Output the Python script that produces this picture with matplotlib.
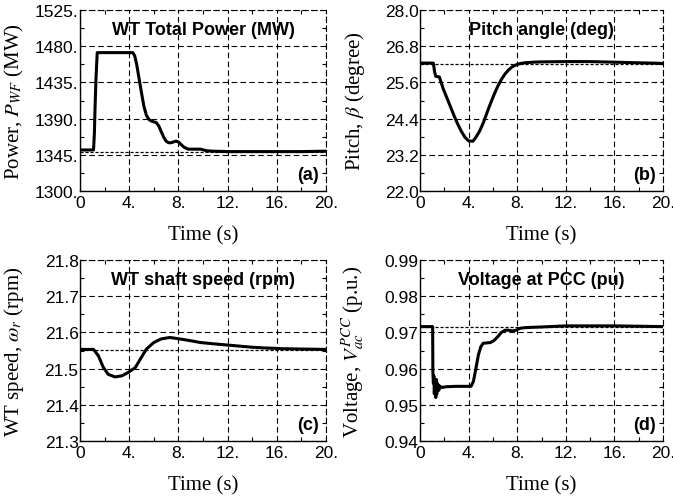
import matplotlib
matplotlib.use("Agg")
import matplotlib.pyplot as plt
from matplotlib.ticker import FixedLocator, FixedFormatter, AutoMinorLocator

plt.rcParams['font.family'] = 'Liberation Sans'
plt.rcParams['mathtext.fontset'] = 'stix'

#### data

# (a) WT total power
t_a = [0, 1.1, 1.17, 1.22, 1.3, 1.4, 4.3, 4.45, 4.6, 4.8, 5.0, 5.2, 5.4, 5.6, 5.8, 6.0, 6.2,
       6.4, 6.6, 6.8, 7.0, 7.2, 7.4, 7.6, 7.8, 8.0, 8.2, 8.5, 8.8, 9.2, 9.8, 10.3, 10.8, 12, 14, 16, 18, 20]
p_a = [1351, 1351, 1372, 1402, 1440, 1472, 1472, 1468, 1458, 1440, 1422, 1405, 1394, 1389, 1387, 1386, 1385,
       1381, 1374, 1367, 1362, 1360, 1360, 1361, 1362, 1361, 1358, 1354, 1352, 1352, 1352, 1350, 1349.5, 1349, 1349, 1349, 1349, 1349.5]
ref_a = 1349

# (b) pitch angle
t_b = [0, 1.1, 1.2, 1.3, 1.6, 1.7, 1.9, 2.2, 2.5, 2.8, 3.1, 3.4, 3.7, 4.0, 4.35, 4.6, 4.9, 5.2,
       5.5, 5.8, 6.1, 6.4, 6.7, 7.0, 7.3, 7.6, 7.9, 8.2, 8.6, 9.3, 10, 12, 14, 16, 18, 20]
p_b = [26.24, 26.24, 25.95, 25.80, 25.78, 25.65, 25.40, 25.10, 24.80, 24.50, 24.22, 23.98, 23.78, 23.66, 23.65, 23.78, 23.98, 24.25,
       24.58, 24.90, 25.20, 25.47, 25.70, 25.88, 26.02, 26.12, 26.18, 26.22, 26.25, 26.27, 26.28, 26.29, 26.29, 26.27, 26.25, 26.23]
ref_b = 26.22

# (c) WT shaft speed
t_c = [0, 1.1, 1.5, 1.9, 2.3, 2.85, 3.4, 3.9, 4.5, 4.9, 5.4, 6.0, 6.6, 7.3, 8.1, 9.0,
       9.8, 11, 12, 13, 14, 15, 16.5, 18, 20]
w_c = [21.553, 21.553, 21.535, 21.503, 21.484, 21.477, 21.480, 21.489, 21.503, 21.526, 21.554, 21.572, 21.582, 21.586, 21.582, 21.577,
       21.572, 21.568, 21.565, 21.562, 21.559, 21.557, 21.555, 21.554, 21.553]
ref_c = 21.552

# (d) voltage at PCC
t_d = [0, 1.04, 1.06, 1.1, 1.14, 1.18, 1.22, 1.26, 1.3, 1.34, 1.38, 1.42, 1.46, 1.5, 1.55, 1.6, 1.8, 2.2, 3, 4.2,
       4.4, 4.6, 4.8, 5.0, 5.2, 5.5, 5.8, 6.1, 6.4, 6.7, 7.0, 7.3, 7.6, 7.9, 8.2, 8.6, 9.2, 10, 12, 14, 16, 18, 20]
v_d = [0.9716, 0.9716, 0.959, 0.956, 0.958, 0.953, 0.957, 0.954, 0.952, 0.957, 0.953, 0.956, 0.954, 0.9555, 0.954, 0.9552, 0.9548, 0.9550, 0.9551, 0.9551,
       0.9565, 0.960, 0.9637, 0.9660, 0.9670, 0.9671, 0.9672, 0.9678, 0.9688, 0.9700, 0.9706, 0.9706, 0.9704, 0.9706, 0.9711, 0.9713, 0.9714, 0.9715, 0.9718, 0.9718, 0.9718, 0.9717, 0.9716]
ref_d = 0.9714

x_ticks = [0, 4, 8, 12, 16, 20]
x_labels = ["0", "4.", "8.", "12.", "16.", "20."]

yt_a = [1300, 1345, 1390, 1435, 1480, 1525]
yl_a = ["1300.", "1345.", "1390.", "1435.", "1480.", "1525."]
yt_b = [22.0, 23.2, 24.4, 25.6, 26.8, 28.0]
yl_b = ["22.0", "23.2", "24.4", "25.6", "26.8", "28.0"]
yt_c = [21.3, 21.4, 21.5, 21.6, 21.7, 21.8]
yl_c = ["21.3", "21.4", "21.5", "21.6", "21.7", "21.8"]
yt_d = [0.94, 0.95, 0.96, 0.97, 0.98, 0.99]
yl_d = ["0.94", "0.95", "0.96", "0.97", "0.98", "0.99"]

titles = ["WT Total Power (MW)", "Pitch angle (deg)", "WT shaft speed (rpm)", "Voltage at PCC (pu)"]
tags = ["(a)", "(b)", "(c)", "(d)"]
ylabels = [r"Power, $P_{WF}$ (MW)", r"Pitch, $\beta$ (degree)",
           r"WT speed, $\omega_r$ (rpm)", r"Voltage, $V_{ac}^{PCC}$ (p.u.)"]

fig = plt.figure(figsize=(6.73, 5.02), dpi=100)

W, H = 673, 502
boxes = [(80, 11, 326, 192), (420, 11, 663, 192), (80, 261, 326, 442), (420, 261, 663, 442)]

panels = [(t_a, p_a, ref_a, yt_a, yl_a), (t_b, p_b, ref_b, yt_b, yl_b),
          (t_c, w_c, ref_c, yt_c, yl_c), (t_d, v_d, ref_d, yt_d, yl_d)]

dash = (0, (5, 3))
for i, (t, y, ref, yt, yl) in enumerate(panels):
    x0, y0, x1, y1 = boxes[i]
    ax = fig.add_axes([x0 / W, 1 - y1 / H, (x1 - x0) / W, (y1 - y0) / H])
    ax.plot(t, y, color='k', lw=2.2, solid_joinstyle='round', zorder=3)
    ax.axhline(ref, color='k', lw=0.9, ls=(0, (2.5, 1.5)), zorder=2)
    ax.set_xlim(0, 20)
    ax.set_ylim(yt[0], yt[-1])
    ax.xaxis.set_major_locator(FixedLocator(x_ticks))
    ax.xaxis.set_major_formatter(FixedFormatter(x_labels))
    ax.yaxis.set_major_locator(FixedLocator(yt))
    ax.yaxis.set_major_formatter(FixedFormatter(yl))
    ax.xaxis.set_minor_locator(AutoMinorLocator(2))
    ax.yaxis.set_minor_locator(AutoMinorLocator(2))
    ax.tick_params(which='both', direction='in', top=True, right=True, labelsize=12.5)
    ax.tick_params(axis='x', pad=3)
    ax.tick_params(axis='y', pad=1)
    ax.tick_params(which='major', length=0)
    ax.tick_params(which='minor', length=3, width=0.8)
    ax.grid(True, which='major', color='k', lw=0.8, ls=dash)
    for s in ['top', 'right']:
        ax.spines[s].set_linestyle(dash)
        ax.spines[s].set_linewidth(0.8)
    for s in ['left', 'bottom']:
        ax.spines[s].set_linewidth(1.0)
    ax.text(0.5, 0.895, titles[i], transform=ax.transAxes, ha='center', va='center',
            fontsize=13, fontweight='bold', zorder=5)
    ax.text(0.97, 0.09, tags[i], transform=ax.transAxes, ha='right', va='center',
            fontsize=13, fontweight='bold', zorder=5)
    ax.set_xlabel("Time (s)", fontfamily='Liberation Serif', fontsize=15)
    ax.xaxis.set_label_coords(0.5, -0.187)
    ax.set_ylabel(ylabels[i], fontfamily='Liberation Serif', fontsize=15)
    ax.yaxis.set_label_coords(-0.22, 0.5)

fig.savefig("out.png", dpi=100)
